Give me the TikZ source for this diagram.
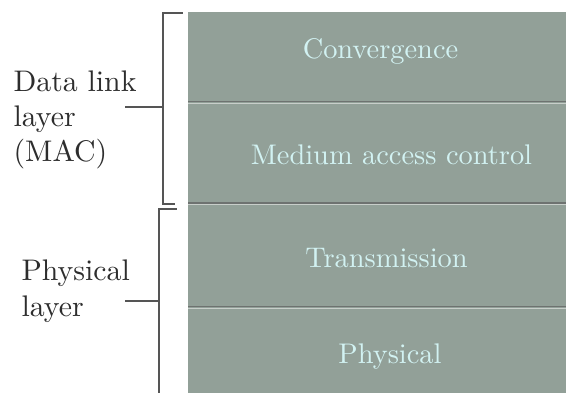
\documentclass[tikz,border=0pt]{standalone}
\definecolor{layerfill}{RGB}{146,160,152}
\definecolor{layertext}{RGB}{210,242,242}
\definecolor{divdark}{RGB}{110,114,112}
\definecolor{divlight}{RGB}{200,206,202}
\definecolor{brk}{RGB}{85,85,85}
\definecolor{lbl}{RGB}{45,45,45}
\begin{document}
\begin{tikzpicture}[x=1pt,y=1pt,
  boxtxt/.style={font=\fontsize{10}{12.5}\selectfont, scale=2.84, inner sep=0pt, anchor=base, text=layertext},
  sidetxt/.style={font=\fontsize{10}{12.5}\selectfont, scale=2.98, inner sep=0pt, anchor=base west, text=lbl},
  divd/.style={draw=divdark, line width=1.6pt},
  divl/.style={draw=divlight, line width=1.3pt},
  bracket/.style={draw=brk, line width=1.7pt}]
\useasboundingbox (0,0) rectangle (566,392);
\clip (0,0) rectangle (566,392);
% stack of layers
\fill[layerfill] (188,-5) rectangle (575,380);
\draw[divd] (188,290.5) -- (575,290.5);
\draw[divl] (188,288.6) -- (575,288.6);
\draw[divd] (188,189.3) -- (575,189.3);
\draw[divl] (188,187.4) -- (575,187.4);
\draw[divd] (188,85.4) -- (575,85.4);
\draw[divl] (188,83.5) -- (575,83.5);
% layer labels
\node[boxtxt] (conv) at (380.5,333.7) {Convergence};
\node[boxtxt] (mac) at (391.5,227) {Medium access control};
\node[boxtxt] (trans) at (386.5,124.7) {Transmission};
\node[boxtxt] (phys) at (390,28.7) {Physical};
% side labels
\node[sidetxt] (dl1) at (13,300.3) {Data link};
\node[sidetxt] (dl2) at (13,265) {layer};
\node[sidetxt] (dl3) at (13,230) {(MAC)};
\node[sidetxt] (pl1) at (21,112) {Physical};
\node[sidetxt] (pl2) at (21,75.5) {layer};
% brackets
\coordinate (ua) at (182.5,379);
\coordinate (ub) at (163.3,379);
\coordinate (uc) at (163.3,188);
\coordinate (ud) at (175,188);
\coordinate (ut1) at (125,284.7);
\coordinate (ut2) at (163.3,284.7);
\draw[bracket] (ua) -- (ub) -- (uc) -- (ud);
\draw[bracket] (ut1) -- (ut2);
\coordinate (la) at (176.7,182.7);
\coordinate (lb) at (159,182.7);
\coordinate (lc) at (159,-5);
\coordinate (lt1) at (125,91.3);
\coordinate (lt2) at (159,91.3);
\draw[bracket] (la) -- (lb) -- (lc);
\draw[bracket] (lt1) -- (lt2);
\end{tikzpicture}
\end{document}
